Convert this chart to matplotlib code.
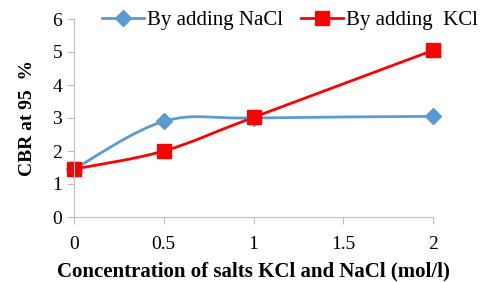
import numpy as np
import matplotlib.pyplot as plt
from matplotlib.path import Path
from matplotlib.patches import PathPatch
from matplotlib.lines import Line2D

conc = [0, 0.5, 1, 2]
cbr_nacl = [1.45, 2.9, 3.0, 3.05]
cbr_kcl = [1.45, 2.0, 3.02, 5.05]

BLUE = "#5B9BD5"
RED = "#FF0000"
plt.rcParams["font.family"] = ["Liberation Serif", "DejaVu Serif"]


def smooth_path(x, y):
    # Excel-style smoothed line: cubic Bezier through the points
    pts = np.column_stack([x, y]).astype(float)
    n = len(pts)
    verts = [pts[0]]
    codes = [Path.MOVETO]
    for i in range(n - 1):
        p0 = pts[max(i - 1, 0)]
        p1 = pts[i]
        p2 = pts[i + 1]
        p3 = pts[min(i + 2, n - 1)]
        c1 = p1 + (p2 - p0) / 6
        c2 = p2 - (p3 - p1) / 6
        verts += [c1, c2, p2]
        codes += [Path.CURVE4] * 3
    return Path(verts, codes)


fig = plt.figure(figsize=(4.8, 2.82), dpi=100)
ax = fig.add_axes([74 / 480, 1 - 217 / 282, (433 - 74) / 480, (217 - 19) / 282])

ax.add_patch(PathPatch(smooth_path(conc, cbr_nacl), fill=False, edgecolor=BLUE, lw=2))
ax.add_patch(PathPatch(smooth_path(conc, cbr_kcl), fill=False, edgecolor=RED, lw=2))
ax.plot(conc, cbr_nacl, ls="none", marker="D", ms=8, color=BLUE, clip_on=False)
ax.plot(conc, cbr_kcl, ls="none", marker="s", ms=10, color=RED, clip_on=False)

ax.set_xlim(0, 2)
ax.set_ylim(0, 6)
ax.set_xticks([0, 0.5, 1, 1.5, 2])
ax.set_xticklabels(["0", "0.5", "1", "1.5", "2"])
ax.set_yticks(range(7))
for s in ["top", "right"]:
    ax.spines[s].set_visible(False)
for s in ["left", "bottom"]:
    ax.spines[s].set_color("#BFBFBF")
ax.tick_params(colors="#BFBFBF", labelcolor="black", labelsize=14, length=5, direction="out")
ax.tick_params(axis="x", pad=9)

ax.set_xlabel("Concentration of salts KCl and NaCl (mol/l)", fontsize=15, fontweight="bold", labelpad=6)
ax.set_ylabel("CBR at 95  %", fontsize=14, fontweight="bold", labelpad=12)

handles = [
    Line2D([], [], color=BLUE, lw=2, marker="D", ms=8),
    Line2D([], [], color=RED, lw=2, marker="s", ms=10),
]
fig.legend(handles, ["By adding NaCl", "By adding  KCl"], loc="upper right",
           bbox_to_anchor=(1.035, 1.03), ncol=2, frameon=False, fontsize=15,
           handlelength=2.0, handletextpad=0.15, columnspacing=0.9)

fig.savefig("out.png", dpi=100)
